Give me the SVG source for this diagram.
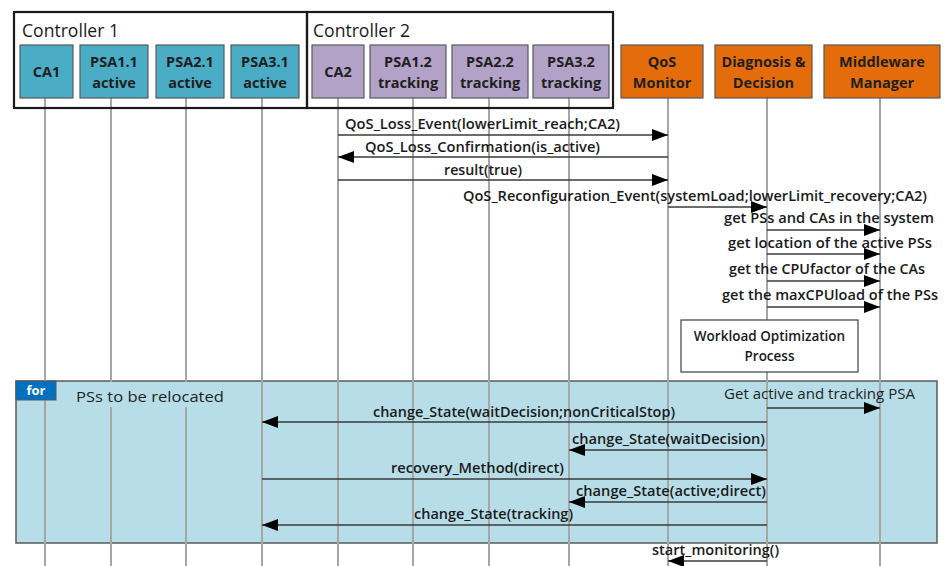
<svg xmlns="http://www.w3.org/2000/svg" width="946" height="566" viewBox="0 0 946 566">
  <style>
    .bg { fill: #ffffff; }
    .ctrl { fill: none; stroke: #1a1a1a; stroke-width: 2.2; }
    .ctrl-title { font-family: "Open Sans", "Liberation Sans", sans-serif; font-size: 17.5px; fill: #1a1a1a; }
    .node rect { stroke: #595959; stroke-width: 1.2; }
    .teal rect { fill: #4bacc6; }
    .purple rect { fill: #b3a2c7; }
    .orange rect { fill: #e46c0a; }
    .node text { font-family: "Open Sans", "Liberation Sans", sans-serif; font-size: 14.5px; font-weight: bold; fill: #1f1f1f; text-anchor: middle; }
    .lifeline { stroke: #a6a6a6; stroke-width: 2; }
    .msg { stroke: #3a3a3a; stroke-width: 1.4; fill: none; marker-end: url(#head); }
    .lbl { font-family: "Open Sans", "Liberation Sans", sans-serif; font-size: 13.5px; font-weight: 600; fill: #1a1a1a; }
    .plain { font-family: "Open Sans", "Liberation Sans", sans-serif; font-size: 14.5px; fill: #1f1f1f; }
    .frame { fill: #b7dee8; stroke: #595959; stroke-width: 1.5; }
    .tag { fill: #0070c0; stroke: #595959; stroke-width: 1; }
    .tag-text { font-family: "Open Sans", "Liberation Sans", sans-serif; font-size: 13px; font-weight: bold; fill: #ffffff; }
    .box { fill: #ffffff; stroke: #404040; stroke-width: 1.2; }
  </style>
  <defs>
    <marker id="head" markerUnits="userSpaceOnUse" markerWidth="16" markerHeight="12" refX="16" refY="6" orient="auto">
      <path d="M0,0 L16,6 L0,12 z" fill="#000000"/>
    </marker>
  </defs>

  <rect class="bg" x="0" y="0" width="946" height="566"/>

  <!-- loop frame body (drawn first so lifelines run across it) -->
  <rect id="loop-frame" class="frame" x="16" y="381" width="921" height="162"/>

  <!-- lifelines -->
  <g id="lifelines">
    <line class="lifeline" x1="45" y1="98" x2="45" y2="566"/>
    <line class="lifeline" x1="111" y1="98" x2="111" y2="566"/>
    <line class="lifeline" x1="186" y1="98" x2="186" y2="566"/>
    <line class="lifeline" x1="262" y1="98" x2="262" y2="566"/>
    <line class="lifeline" x1="338" y1="98" x2="338" y2="566"/>
    <line class="lifeline" x1="413" y1="98" x2="413" y2="566"/>
    <line class="lifeline" x1="489" y1="98" x2="489" y2="566"/>
    <line class="lifeline" x1="569" y1="98" x2="569" y2="566"/>
    <line class="lifeline" x1="668" y1="98" x2="668" y2="566"/>
    <line class="lifeline" x1="767" y1="98" x2="767" y2="566"/>
    <line class="lifeline" x1="880" y1="98" x2="880" y2="566"/>
  </g>

  <!-- loop operator tag and guard, on top of the lifelines -->
  <g id="loop-header">
    <rect class="tag" x="16" y="381" width="40" height="19"/>
    <text class="tag-text" x="36" y="395" text-anchor="middle">for</text>
    <rect x="72" y="382" width="156" height="25" fill="#b7dee8"/>
    <text class="plain" x="76" y="402" font-size="16" textLength="148" lengthAdjust="spacingAndGlyphs">PSs to be relocated</text>
  </g>

  <!-- controller groupings -->
  <g id="controller-1">
    <rect class="ctrl" x="14" y="12" width="293" height="96"/>
    <text class="ctrl-title" x="22" y="37" textLength="97" lengthAdjust="spacingAndGlyphs">Controller 1</text>
  </g>
  <g id="controller-2">
    <rect class="ctrl" x="307" y="12" width="306" height="96"/>
    <text class="ctrl-title" x="313" y="37" textLength="97" lengthAdjust="spacingAndGlyphs">Controller 2</text>
  </g>

  <!-- participants -->
  <g id="CA1" class="node teal">
    <rect x="20" y="45" width="53" height="53"/>
    <text x="46.5" y="77">CA1</text>
  </g>
  <g id="PSA1.1" class="node teal">
    <rect x="80" y="45" width="68" height="53"/>
    <text x="114" y="67">PSA1.1</text>
    <text x="114" y="88" font-weight="600">active</text>
  </g>
  <g id="PSA2.1" class="node teal">
    <rect x="156" y="45" width="68" height="53"/>
    <text x="190" y="67">PSA2.1</text>
    <text x="190" y="88" font-weight="600">active</text>
  </g>
  <g id="PSA3.1" class="node teal">
    <rect x="231" y="45" width="68" height="53"/>
    <text x="265" y="67">PSA3.1</text>
    <text x="265" y="88" font-weight="600">active</text>
  </g>
  <g id="CA2" class="node purple">
    <rect x="312" y="45" width="52" height="53"/>
    <text x="338" y="77">CA2</text>
  </g>
  <g id="PSA1.2" class="node purple">
    <rect x="370" y="45" width="76" height="53"/>
    <text x="408" y="67">PSA1.2</text>
    <text x="408" y="88" font-weight="600">tracking</text>
  </g>
  <g id="PSA2.2" class="node purple">
    <rect x="452" y="45" width="76" height="53"/>
    <text x="490" y="67">PSA2.2</text>
    <text x="490" y="88" font-weight="600">tracking</text>
  </g>
  <g id="PSA3.2" class="node purple">
    <rect x="533" y="45" width="76" height="53"/>
    <text x="571" y="67">PSA3.2</text>
    <text x="571" y="88" font-weight="600">tracking</text>
  </g>
  <g id="QoS-Monitor" class="node orange">
    <rect x="621" y="45" width="82" height="53"/>
    <text x="662" y="67">QoS</text>
    <text x="662" y="88">Monitor</text>
  </g>
  <g id="Diagnosis-Decision" class="node orange">
    <rect x="715" y="45" width="97" height="53"/>
    <text x="763.5" y="67">Diagnosis &amp;</text>
    <text x="763.5" y="88">Decision</text>
  </g>
  <g id="Middleware-Manager" class="node orange">
    <rect x="824" y="45" width="116" height="53"/>
    <text x="882" y="67">Middleware</text>
    <text x="882" y="88">Manager</text>
  </g>

  <!-- internal activity -->
  <g id="Workload-Optimization">
    <rect class="box" x="681" y="320" width="177" height="52"/>
    <text class="lbl" x="769.5" y="341" text-anchor="middle">Workload Optimization</text>
    <text class="lbl" x="769.5" y="361" text-anchor="middle">Process</text>
  </g>

  <!-- messages -->
  <g id="connectors">
    <path class="msg" d="M338,135 H668"/>
    <path class="msg" d="M668,157 H338"/>
    <path class="msg" d="M338,180 H668"/>
    <path class="msg" d="M668,207 H767"/>
    <path class="msg" d="M767,230 H880"/>
    <path class="msg" d="M767,254 H880"/>
    <path class="msg" d="M767,281 H880"/>
    <path class="msg" d="M767,307 H880"/>
    <path class="msg" d="M767,408 H880"/>
    <path class="msg" d="M767,422 H262"/>
    <path class="msg" d="M767,450 H569"/>
    <path class="msg" d="M262,479 H767"/>
    <path class="msg" d="M767,502 H569"/>
    <path class="msg" d="M767,525 H262"/>
    <path class="msg" d="M767,561 H668"/>
  </g>

  <!-- message labels -->
  <g id="labels">
    <text class="lbl" x="345" y="129" textLength="275" lengthAdjust="spacingAndGlyphs">QoS_Loss_Event(lowerLimit_reach;CA2)</text>
    <text class="lbl" x="365" y="152" textLength="235" lengthAdjust="spacingAndGlyphs">QoS_Loss_Confirmation(is_active)</text>
    <text class="lbl" x="444" y="175" textLength="78" lengthAdjust="spacingAndGlyphs">result(true)</text>
    <text class="lbl" x="463" y="201" textLength="464" lengthAdjust="spacingAndGlyphs">QoS_Reconfiguration_Event(systemLoad;lowerLimit_recovery;CA2)</text>
    <text class="lbl" x="724" y="223" textLength="210" lengthAdjust="spacingAndGlyphs">get  PSs and CAs in the system</text>
    <text class="lbl" x="728" y="248" textLength="204" lengthAdjust="spacingAndGlyphs">get location of the active  PSs</text>
    <text class="lbl" x="729" y="274" textLength="196" lengthAdjust="spacingAndGlyphs">get the CPUfactor of the CAs</text>
    <text class="lbl" x="722" y="300" textLength="216" lengthAdjust="spacingAndGlyphs">get the maxCPUload of the  PSs</text>
    <text class="plain" x="724" y="399" textLength="191" lengthAdjust="spacingAndGlyphs">Get active and tracking PSA</text>
    <text class="lbl" x="373" y="417" textLength="302" lengthAdjust="spacingAndGlyphs">change_State(waitDecision;nonCriticalStop)</text>
    <text class="lbl" x="572" y="444" textLength="193" lengthAdjust="spacingAndGlyphs">change_State(waitDecision)</text>
    <text class="lbl" x="391" y="473" textLength="173" lengthAdjust="spacingAndGlyphs">recovery_Method(direct)</text>
    <text class="lbl" x="576" y="496" textLength="190" lengthAdjust="spacingAndGlyphs">change_State(active;direct)</text>
    <text class="lbl" x="414" y="519" textLength="159" lengthAdjust="spacingAndGlyphs">change_State(tracking)</text>
    <text class="lbl" x="652" y="555" textLength="127" lengthAdjust="spacingAndGlyphs">start_monitoring()</text>
  </g>
</svg>
